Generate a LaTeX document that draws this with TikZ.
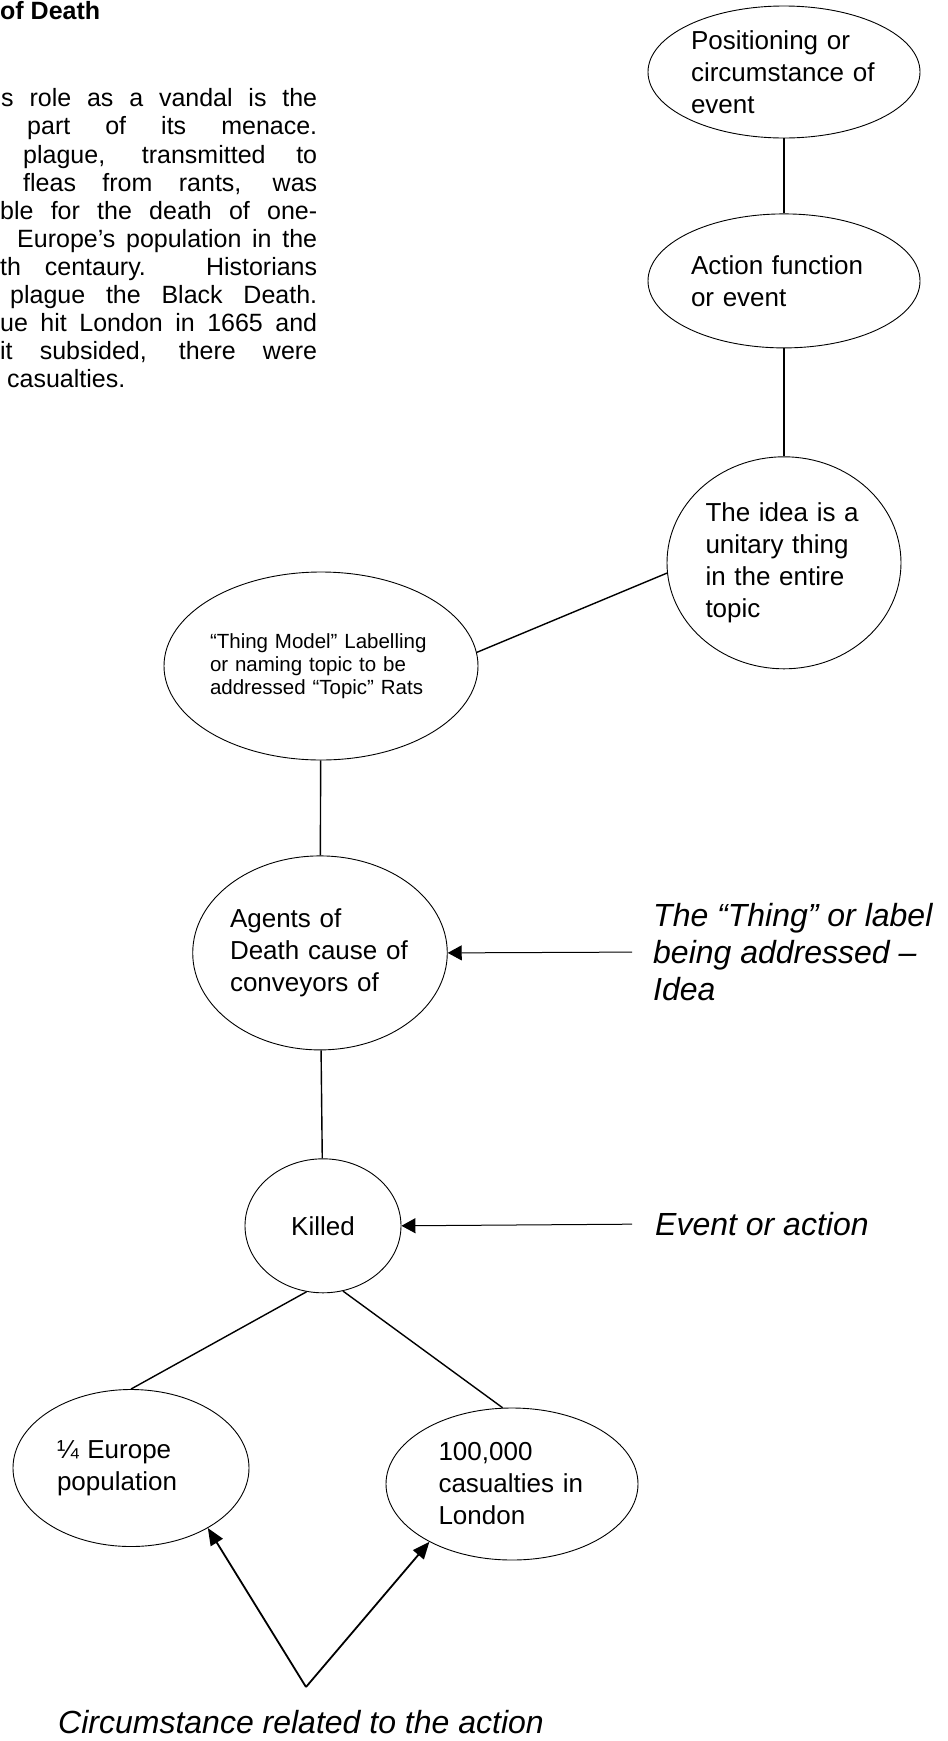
\documentclass[tikz,border=0pt]{standalone}
\usepackage{fontspec}
\setmainfont{Liberation Sans}
\usetikzlibrary{positioning,shapes.geometric,arrows.meta}

\tikzset{
  bubble/.style={draw, ellipse, line width=0.9pt, inner sep=0pt, align=left,
    font=\fontsize{26}{32}\selectfont},
  note/.style={inner sep=0pt, align=left, font=\fontsize{32}{37}\selectfont\itshape},
  para/.style={inner sep=0pt, anchor=base west, font=\fontsize{25}{28}\selectfont},
  link/.style={line width=1.4pt},
  pointer/.style={line width=1pt, -{Triangle[length=14pt,width=15pt]}},
  bigpointer/.style={line width=1.8pt, -{Triangle[length=17pt,width=14pt]}},
}

\begin{document}
\begin{tikzpicture}[x=1pt, y=-1pt]

  \useasboundingbox (0,0) rectangle (948,1741);
  \clip (0,0) rectangle (948,1741);

  % text column
  \node[para, font=\fontsize{25}{28}\selectfont\bfseries] (heading) at (0,19) {of Death}; %
  \node[para] (p1) at (1,106.5) {\makebox[316pt][s]{s role as a vandal is the}}; %
  \node[para] (p2) at (27,134.5) {\makebox[290pt][s]{part of its menace.}}; %
  \node[para] (p3) at (23,163) {\makebox[294pt][s]{plague, transmitted to}}; %
  \node[para] (p4) at (23,191) {\makebox[294pt][s]{fleas from rants, was}}; %
  \node[para] (p5) at (0,219) {\makebox[317pt][s]{ble for the death of one-}}; %
  \node[para] (p6) at (17,247.5) {\makebox[300pt][s]{Europe’s population in the}}; %
  \node[para] (p7) at (0,275) {\makebox[317pt][s]{th centaury. Historians}}; %
  \node[para] (p8) at (10,303) {\makebox[307pt][s]{plague the Black Death.}}; %
  \node[para] (p9) at (0,331) {\makebox[317pt][s]{ue hit London in 1665 and}}; %
  \node[para] (p10) at (0,359) {\makebox[317pt][s]{it subsided, there were}}; %
  \node[para] (p11) at (7,387) {casualties.}; %

  % right column
  \node[bubble, minimum width=272pt, minimum height=132pt, text width=186pt] (pos) at (784,72)
    {Positioning or\\circumstance of\\event}; %
  \node[bubble, minimum width=272pt, minimum height=134pt, text width=186pt, below=75pt of pos] (act)
    {Action function\\or event}; %
  \node[bubble, minimum width=234pt, minimum height=212pt, text width=157pt, below=108pt of act] (idea)
    {The idea is a\\unitary thing\\in the entire\\topic}; %

  % left column
  \node[bubble, minimum width=314pt, minimum height=188pt, text width=222pt,
    font=\fontsize{20.5}{23}\selectfont] (thing) at (321,666)
    {“Thing Model” Labelling\\or naming topic to be\\addressed “Topic” Rats}; %
  \node[bubble, minimum width=252pt, minimum height=194pt, text width=180pt,
    below=95pt of thing, xshift=-1pt] (agents) {Agents of\\Death cause of\\conveyors of}; %
  \node[bubble, minimum width=156pt, minimum height=134pt, below=108pt of agents, xshift=3pt] (killed)
    {Killed}; %
  \node[bubble, minimum width=236pt, minimum height=157pt, text width=148pt] (europe) at (131,1468)
    {¼ Europe\\population}; %
  \node[bubble, minimum width=252pt, minimum height=152pt, text width=147pt] (london) at (512,1484)
    {100,000\\casualties in\\London}; %

  % notes
  \node[note, anchor=west] (thinglabel) at (653,952) {The “Thing” or label\\being addressed –\\Idea}; %
  \node[note, anchor=west] (eventlabel) at (655,1224) {Event or action}; %
  \node[note] (circlabel) at (301,1722) {Circumstance related to the action}; %
  \coordinate (apex) at (306,1687);

  % edges
  \draw[link] (pos) -- (act); %
  \draw[link] (act) -- (idea); %
  \draw[link] (idea.185) -- (thing.5); %
  \draw[link] (thing) -- (agents); %
  \draw[link] (agents) -- (killed); %
  \draw[link] (killed.256) -- (europe.90); %
  \draw[link] (killed.287) -- (london.97); %

  % pointers
  \draw[pointer, shorten <=21pt] (thinglabel.west) -- (agents.east); %
  \draw[pointer, shorten <=23pt] (eventlabel.west) -- (killed.east); %
  \draw[bigpointer] (apex) -- (europe.322); %
  \draw[bigpointer] (apex) -- (london.215); %

\end{tikzpicture}
\end{document}
